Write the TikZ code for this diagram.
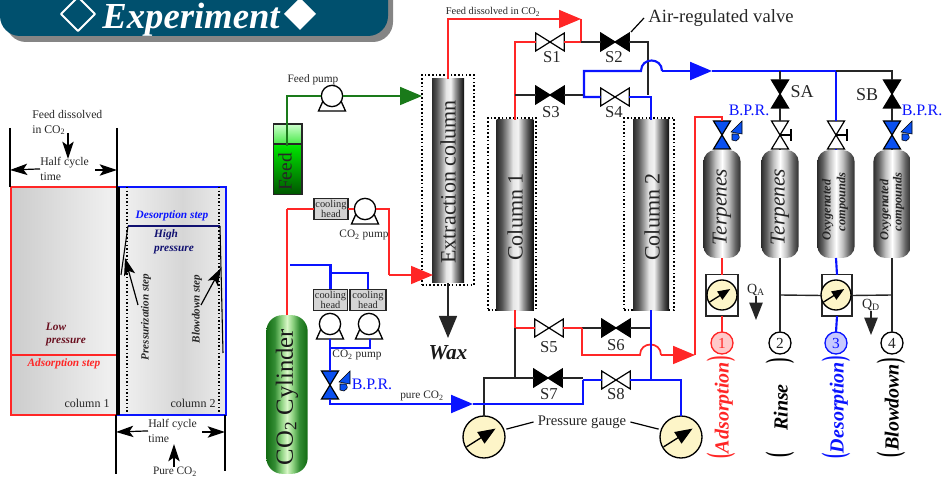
\documentclass[tikz,border=0pt]{standalone}
\usepackage{fontspec}
\setmainfont{Liberation Serif}
\usetikzlibrary{arrows.meta,calc}
\definecolor{banner}{HTML}{00506E}
\definecolor{shadowgray}{HTML}{858585}
\definecolor{pred}{HTML}{FF2626}
\definecolor{pblue}{HTML}{0A14FF}
\definecolor{pgreen}{HTML}{1A7A1A}
\definecolor{vblue}{HTML}{0A50F0}
\definecolor{cream}{HTML}{FDF5C8}
\definecolor{txt}{HTML}{262626}
\definecolor{lowred}{HTML}{6A1020}
\definecolor{navy}{HTML}{101070}
\pgfdeclarehorizontalshading{colsteel}{100bp}{rgb(0bp)=(.15,.15,.15); rgb(25bp)=(.17,.17,.17); rgb(32bp)=(.33,.33,.33); rgb(40bp)=(.62,.62,.62); rgb(47bp)=(.9,.9,.9); rgb(54bp)=(.95,.95,.95); rgb(61bp)=(.6,.6,.6); rgb(68bp)=(.3,.3,.3); rgb(75bp)=(.05,.05,.05); rgb(100bp)=(.05,.05,.05)}
\pgfdeclarehorizontalshading{tanksteel}{100bp}{rgb(0bp)=(.18,.18,.18); rgb(25bp)=(.18,.18,.18); rgb(32bp)=(.38,.38,.38); rgb(41bp)=(.75,.75,.75); rgb(50bp)=(1,1,1); rgb(59bp)=(.75,.75,.75); rgb(68bp)=(.38,.38,.38); rgb(75bp)=(.18,.18,.18); rgb(100bp)=(.18,.18,.18)}
\pgfdeclarehorizontalshading{cylgreen}{100bp}{rgb(0bp)=(.07,.42,.07); rgb(25bp)=(.07,.42,.07); rgb(35bp)=(.2,.55,.2); rgb(43bp)=(.55,.82,.5); rgb(50bp)=(.85,.97,.78); rgb(57bp)=(.55,.82,.5); rgb(65bp)=(.2,.55,.2); rgb(75bp)=(.07,.42,.07); rgb(100bp)=(.07,.42,.07)}
\pgfdeclareverticalshading{feedgreen}{100bp}{rgb(0bp)=(0,.33,0); rgb(25bp)=(0,.33,0); rgb(60.5bp)=(0,.9,0); rgb(61.5bp)=(.3,.92,.3); rgb(75bp)=(.8,1,.8); rgb(100bp)=(.8,1,.8)}
\pgfdeclarehorizontalshading{leftgray}{100bp}{rgb(0bp)=(.8,.8,.8); rgb(25bp)=(.8,.8,.8); rgb(75bp)=(.95,.95,.95); rgb(100bp)=(.95,.95,.95)}
\pgfdeclarehorizontalshading{rightgray}{100bp}{rgb(0bp)=(.95,.95,.95); rgb(25bp)=(.95,.95,.95); rgb(55bp)=(.84,.84,.84); rgb(75bp)=(.92,.92,.92); rgb(100bp)=(.92,.92,.92)}
\tikzset{
  vbox/.style={rectangle,inner sep=0pt,outer sep=0pt},
  hv/.style={vbox,minimum width=21.5pt,minimum height=13.5pt},
  vv/.style={vbox,minimum width=12.75pt,minimum height=21pt},
  vshape/.style={draw=black,line width=.9pt},
  lab/.style={inner sep=0pt,text=txt,font=\fontsize{8.5}{10}\selectfont},
  slab/.style={inner sep=0pt,text=txt,font=\fontsize{12.5}{13}\selectfont},
  lstep/.style={inner sep=0pt,font=\fontsize{8.5}{10}\selectfont\bfseries\itshape},
  coltext/.style={inner sep=0pt,rotate=90,text=black!85,font=\fontsize{16.5}{18}\selectfont},
  dotbox/.style={draw=black,line width=.9pt,dash pattern=on 1.2pt off 1.6pt,minimum width=0pt,inner sep=0pt,outer sep=0pt},
  steelcol/.style={shade,shading=colsteel,inner sep=0pt,outer sep=0pt},
  tank/.style={shade,shading=tanksteel,inner sep=0pt,outer sep=0pt,minimum width=28pt,minimum height=81pt,rounded corners=9pt},
  pipeR/.style={draw=pred,line width=1.3pt},
  pipeB/.style={draw=pblue,line width=1.6pt},
  pipeG/.style={draw=pgreen,line width=1.3pt},
  pipeK/.style={draw=black!85,line width=1.05pt},
  bigtip/.style={-{Triangle[length=16.5pt,width=13.5pt]}},
  dimtip/.style={draw=black,line width=.9pt,-{Stealth[length=13pt,width=8.5pt,inset=3pt]}},
  coolbox/.style={draw=black!85,fill=black!17,line width=1.1pt,inner sep=0pt,outer sep=0pt,minimum width=25.5pt,minimum height=16pt,align=center,text=txt,font=\fontsize{7.8}{6}\selectfont},
  gaugenode/.style={circle,draw=black,fill=cream,line width=1pt,inner sep=0pt,outer sep=0pt},
  pumpnode/.style={circle,draw=black,fill=white,line width=1pt,inner sep=0pt,outer sep=0pt,minimum size=16pt},
  numnode/.style={circle,line width=1pt,inner sep=0pt,outer sep=0pt,minimum size=16.5pt,font=\fontsize{11.5}{12}\selectfont},
}
\newcommand{\hvalve}[4]{\node[hv] (#1) at (#2,#3) {};
  \filldraw[vshape,fill=#4] (#1.north west) -- (#1.south west) -- (#1.north east) -- (#1.south east) -- cycle;}
\newcommand{\vvalve}[4]{\node[vv] (#1) at (#2,#3) {};
  \filldraw[vshape,fill=#4] (#1.north west) -- (#1.north east) -- (#1.south west) -- (#1.south east) -- cycle;}
\newcommand{\handvalve}[3]{\vvalve{#1}{#2}{#3}{white}
  \draw[vshape] (#1.center) -- ++(11,0) ++(0,-6) -- ++(0,12);}
\newcommand{\bprvalve}[3]{\vvalve{#1}{#2}{#3}{vblue}
  \begin{scope}[shift={(#2,#3)}]
    \filldraw[draw=black,line width=.4pt,fill=vblue] (9,-3) -- (20,-14) -- (20,-1) -- cycle;
    \filldraw[draw=black,line width=.4pt,fill=vblue] (10,-1) -- (16,-1) .. controls (18,3) .. (14,6) -- (10,5) -- cycle;
  \end{scope}}
\newcommand{\pumpat}[3]{\draw[line width=1pt,draw=black,fill=white] (#2-9,#3+5) -- (#2-13.5,#3+15) -- (#2+13.5,#3+15) -- (#2+9,#3+5) -- cycle;
  \node[pumpnode] (#1) at (#2,#3) {};}
\newcommand{\gaugeat}[4]{\node[gaugenode,minimum size=#4*1.5pt] (#1) at (#2,#3) {};
  \draw[line width=1pt,-{Triangle[length=#4*.62pt,width=#4*.48pt]}] (#2-#4*.83,#3+#4*.47) -- (#2+#4*.55,#3-#4*.4);}
\newcommand{\sidelabel}[5]{\node[inner sep=0pt,rotate=90,text=#4,font=\fontsize{15}{16}\selectfont\bfseries\itshape] (#1) at (#2,#3) {\makebox[74.25pt]{\scalebox{.8}[1.6]{\upshape(}\hfill #5\hfill\scalebox{.8}[1.6]{\upshape)}}};}
\begin{document}
\begin{tikzpicture}[x=.75pt,y=-.75pt]
\useasboundingbox (0,0) rectangle (943,477);
\clip (0,0) rectangle (943,477);
% ---------- banner
\fill[shadowgray,rounded corners=15pt] (6,0) -- (6,42) -- (393,42) -- (393,-20) -- (6,-20) -- cycle;
\fill[banner,rounded corners=15pt] (0,-20) -- (0,36) -- (388,36) -- (388,-20) -- cycle;
\draw[white,line width=1.5pt,line join=round] (78,-3) -- (95,14) -- (78,31) -- (61,14) -- cycle;
\node[anchor=base,inner sep=0pt,text=white,font=\fontsize{27.5}{29}\selectfont\bfseries\itshape] (title) at (191,28.5) {Experiment};
\fill[white,line join=round] (300,-2) -- (316,14) -- (300,30) -- (284,14) -- cycle;
% ---------- left cycle figure
\shade[shading=leftgray] (11,187) rectangle (117,415);
\shade[shading=rightgray] (117,187) rectangle (226,415);
\draw[pred,line width=1.5pt] (117,187) -- (11,187) -- (11,415) -- (117,415);
\draw[pblue,line width=1.5pt] (117,187) -- (226,187) -- (226,415) -- (117,415);
\draw[pred,line width=.9pt] (11,355) -- (116,355);
\draw[black,dash pattern=on 1.1pt off 1.6pt,line width=.9pt] (127,187) -- (127,413) (219,187) -- (219,413);
\draw[black,line width=3pt] (117.5,187) -- (117.5,415);
\draw[navy,line width=1pt] (128,226) -- (220,226);
\draw[black,line width=.8pt] (128,226) -- (121,275);
\draw[black,line width=.8pt] (220,226) -- (223,353);
\coordinate (dimLa) at (10,128); \coordinate (dimLb) at (10,187);
\coordinate (dimMa) at (117,128); \coordinate (dimMb) at (117,187);
\coordinate (dimNa) at (116,415); \coordinate (dimNb) at (116,474);
\coordinate (dimRa) at (225,415); \coordinate (dimRb) at (225,471);
\draw[black,line width=.8pt] (dimLa) -- (dimLb) (dimMa) -- (dimMb) (dimNa) -- (dimNb) (dimRa) -- (dimRb);
\node[lab,align=left,anchor=north west,font=\fontsize{8.8}{11.2}\selectfont] (feedco) at (32,110) {Feed dissolved\\in CO\textsubscript{2}};
\coordinate (fa) at (68,133); \coordinate (fb) at (68,159);
\draw[dimtip] (fa) -- (fb);
\node[lab,align=left,anchor=north west,font=\fontsize{8.8}{11.2}\selectfont] (hc1) at (40,157) {Half cycle\\time};
\coordinate (hl) at (10,170); \coordinate (hr) at (117,170);
\draw[dimtip] (hc1.west) -- (hl);
\draw[dimtip] (95,170) -- (hr);
\node[lab,align=left,anchor=north west,font=\fontsize{8.8}{11.2}\selectfont] (hc2) at (148,419) {Half cycle\\time};
\coordinate (hl2) at (116,432); \coordinate (hr2) at (225,432);
\draw[dimtip] (hc2.west) -- (hl2);
\draw[dimtip] (202,432) -- (hr2);
\node[lab] (pure) at (175,472) {Pure CO\textsubscript{2}};
\coordinate (pu) at (174,444);
\draw[dimtip] ($(pure.north)+(-1,0)$) -- (pu);
\node[lstep,text=pblue] (dstep) at (172,216) {Desorption step};
\node[lstep,text=navy] (hi) at (166,235) {High};
\node[lstep,text=navy] (hp) at (174,250) {pressure};
\node[lstep,text=lowred] (lo) at (56,327) {Low};
\node[lstep,text=lowred] (lp) at (66,342) {pressure};
\node[lstep,text=pred] (astep) at (64,364) {Adsorption step};
\node[lstep,text=black!85,rotate=90,font=\fontsize{8.3}{10}\selectfont\bfseries\itshape] (pstep) at (146,317) {Pressurization step};
\node[lstep,text=black!85,rotate=90,font=\fontsize{8.3}{10}\selectfont\bfseries\itshape] (bstep) at (197,309) {Blowdown step};
\coordinate (pa) at (125,258); \coordinate (pb) at (138,305);
\coordinate (ba) at (221,268); \coordinate (bb) at (201,305);
\draw[dimtip] (pb) -- (pa);
\draw[dimtip] (bb) -- (ba);
\node[lab,font=\fontsize{9}{10}\selectfont] (cl1) at (87,403) {column 1};
\node[lab,font=\fontsize{9}{10}\selectfont] (cl2) at (193,403) {column 2};
% ---------- feed
\node[shade,shading=feedgreen,draw=black!85,line width=1pt,inner sep=0pt,outer sep=0pt,minimum width=21.5pt,minimum height=53pt] (feed) at (287.5,159.5) {};
\coordinate (feedL) at (feed.west |- 0,144); \coordinate (feedR) at (feed.east |- 0,144);
\draw[black!85,line width=1pt] (feedL) -- (feedR);
\node[inner sep=0pt,rotate=90,text=black!85,font=\fontsize{14.5}{15}\selectfont] (feedT) at (285,172) {Feed};
\pumpat{fp}{332}{96}
\node[lab] (fpl) at (313,80) {Feed pump};
% ---------- columns
\node[dotbox,minimum width=39pt,minimum height=157.5pt] (ecbox) at (448,180) {};
\node[steelcol,minimum width=24pt,minimum height=153pt] (ec) at (448,181) {};
\node[coltext] (ect) at (448,182) {Extraction column};
\node[dotbox,minimum width=36pt,minimum height=144pt] (c1box) at (512,214) {};
\node[steelcol,minimum width=27.5pt,minimum height=143pt] (col1) at (515,215) {};
\node[coltext] (c1t) at (515,217) {Column 1};
\node[dotbox,minimum width=37.5pt,minimum height=144pt] (c2box) at (649,214) {};
\node[steelcol,minimum width=27pt,minimum height=143pt] (col2) at (651,215) {};
\node[coltext] (c2t) at (652,217) {Column 2};
\node[inner sep=0pt,font=\fontsize{16}{18}\selectfont\bfseries\itshape,text=black!90] (wax) at (448,353) {Wax};
% ---------- valves
\hvalve{S1}{550}{42}{white}
\hvalve{S2}{615}{42}{black}
\hvalve{S3}{550}{95}{black}
\hvalve{S4}{615}{97}{white}
\hvalve{S5}{549}{328}{white}
\hvalve{S6}{616}{328}{black}
\hvalve{S7}{548}{378}{black}
\hvalve{S8}{616}{380}{white}
\node[slab] (S1l) at (552,57) {S1};
\node[slab] (S2l) at (614,57) {S2};
\node[slab] (S3l) at (551,112) {S3};
\node[slab] (S4l) at (614,112) {S4};
\node[slab] (S5l) at (549,347) {S5};
\node[slab] (S6l) at (616,345) {S6};
\node[slab] (S7l) at (549,394) {S7};
\node[slab] (S8l) at (616,394) {S8};
\node[inner sep=0pt,text=txt,font=\fontsize{14}{15}\selectfont] (arv) at (721,18) {Air-regulated valve};
\coordinate (arvc) at (631,32);
\coordinate (arvd) at (644,18);
\draw[black,line width=.9pt] (arvc) -- (arvd);
\node[lab,font=\fontsize{7.8}{9}\selectfont] (fdl) at (493,12) {Feed dissolved in CO\textsubscript{2}};
% ---------- CO2 supply
\node[shade,shading=cylgreen,inner sep=0pt,outer sep=0pt,minimum width=31pt,minimum height=119pt,rounded corners=12pt] (cyl) at (287,394.5) {};
\node[inner sep=0pt,rotate=90,text=black!90,font=\fontsize{18.5}{20}\selectfont] (cylt) at (287,397) {CO\textsubscript{2} Cylinder};
\node[coolbox] (ch1) at (331,209) {cooling\\[-1pt]head};
\pumpat{p1}{365}{209}
\node[lab] (p1l) at (364,235) {CO\textsubscript{2} pump};
\node[coolbox] (ch2) at (330.5,300) {cooling\\[-1pt]head};
\node[coolbox,minimum width=27pt] (ch3) at (368,300) {cooling\\[-1pt]head};
\pumpat{p2}{330}{324}
\pumpat{p3}{369}{324}
\node[lab] (p2l) at (357,355) {CO\textsubscript{2} pump};
\bprvalve{BP}{330}{385}
\node[inner sep=0pt,text=pblue,font=\fontsize{12}{13}\selectfont] (bpl) at (372,384) {B.P.R.};
\node[lab] (purel) at (422,396) {pure CO\textsubscript{2}};
% ---------- gauges
\gaugeat{g1}{484}{437}{21}
\gaugeat{g2}{681}{437}{21}
\node[lab,font=\fontsize{11}{12}\selectfont,inner sep=3pt] (pg) at (582,422) {Pressure gauge};
\draw[black,line width=.9pt,shorten >=2pt] (pg.west) -- (g1.20);
\draw[black,line width=.9pt,shorten >=2pt] (pg.east) -- (g2.160);
% ---------- product tanks
\vvalve{SA}{780}{94}{black}
\vvalve{SB}{892}{94}{black}
\bprvalve{B1}{722}{135}
\handvalve{V2}{780}{135}
\handvalve{V3}{836}{135}
\bprvalve{B2}{892}{135}
\node[slab,font=\fontsize{13.5}{14}\selectfont] (SAl) at (802,92) {SA};
\node[slab,font=\fontsize{13.5}{14}\selectfont] (SBl) at (867,95) {SB};
\node[inner sep=0pt,text=pblue,font=\fontsize{12}{13}\selectfont] (b1l) at (749,110) {B.P.R.};
\node[inner sep=0pt,text=pblue,font=\fontsize{12}{13}\selectfont] (b2l) at (922,110) {B.P.R.};
\node[tank] (t1) at (722,204) {};
\node[tank] (t2) at (780,204) {};
\node[tank] (t3) at (836,204) {};
\node[tank] (t4) at (892,204) {};
\node[inner sep=0pt,rotate=90,text=black!85,font=\fontsize{16}{17}\selectfont\itshape] (t1t) at (722,207) {Terpenes};
\node[inner sep=0pt,rotate=90,text=black!85,font=\fontsize{16}{17}\selectfont\itshape] (t2t) at (780,207) {Terpenes};
\node[inner sep=0pt,rotate=90,text=black!85,align=center,font=\fontsize{9.3}{11}\selectfont\bfseries\itshape] (t3t) at (835,210) {Oxygenated\\\hspace*{6pt}compounds\hspace*{-6pt}};
\node[inner sep=0pt,rotate=90,text=black!85,align=center,font=\fontsize{9.3}{10}\selectfont\bfseries\itshape] (t4t) at (892,210) {Oxygenated\\\hspace*{6pt}compounds\hspace*{-6pt}};
\node[draw=black!85,line width=1pt,fill=white,inner sep=0pt,outer sep=0pt,minimum width=24pt,minimum height=31pt] (gb1) at (722,295.5) {};
\node[draw=black!85,line width=1pt,fill=white,inner sep=0pt,outer sep=0pt,minimum width=22.5pt,minimum height=31pt] (gb2) at (837,295.5) {};
\gaugeat{g3}{722}{295}{15}
\gaugeat{g4}{836}{295}{15}
\node[numnode,draw=pred,fill=pred!25,text=pred] (n1) at (722,343) {1};
\node[numnode,draw=black,fill=white,text=txt] (n2) at (780,343) {2};
\node[numnode,draw=pblue,fill=pblue!23,text=pblue] (n3) at (836,343) {3};
\node[numnode,draw=black,fill=white,text=txt] (n4) at (892,343) {4};
\sidelabel{sa}{721}{407.5}{pred}{Adsorption}
\sidelabel{sr}{780}{407.5}{black}{Rinse}
\sidelabel{sd}{836}{407.5}{pblue}{Desorption}
\sidelabel{sb}{891}{407.5}{black}{Blowdown}
\node[inner sep=0pt,text=txt,font=\fontsize{10.5}{11}\selectfont] (qa) at (756,290) {Q\textsubscript{A}};
\node[inner sep=0pt,text=txt,font=\fontsize{10.5}{11}\selectfont] (qd) at (871,305) {Q\textsubscript{D}};
\coordinate (qat) at (756,320);
\coordinate (qdt) at (871,335);
\draw[pipeK,-{Triangle[length=13pt,width=10pt]}] (qa.south) -- (qat);
\draw[pipeK,-{Triangle[length=13pt,width=10pt]}] (qd.south) -- (qdt);
% ---------- named junctions
\coordinate (feedin) at (287,146);
\coordinate (ecA) at (422,96);
\coordinate (fT) at (581,19);
\coordinate (j1) at (581,42);
\coordinate (j2) at (648,95);
\coordinate (j3) at (515,95);
\coordinate (j4) at (584,97);
\coordinate (jA) at (641,71);
\coordinate (jB) at (662,71);
\coordinate (topT) at (712,71);
\coordinate (j5) at (836,71);
\coordinate (j6) at (780,71);
\coordinate (j9) at (515,328);
\coordinate (j10) at (582,328);
\coordinate (j11) at (651,328);
\coordinate (j12) at (651,380);
\coordinate (j13) at (515,378);
\coordinate (j15) at (583,380);
\coordinate (jC) at (640,355);
\coordinate (jD) at (661,355);
\coordinate (rT) at (695,355);
\coordinate (rC) at (695,117);
\coordinate (pureT) at (473,404);
\coordinate (r1) at (287,209);
\coordinate (r2) at (389,275);
\coordinate (ecB) at (433,275);
\coordinate (bfree) at (290,265);
\coordinate (j17) at (330.5,273);
\coordinate (j18) at (330,348);
\coordinate (j7) at (780,295);
\coordinate (j8) at (892,295);
\coordinate (p2b) at (330,339);
\coordinate (p3b) at (370,339);
\coordinate (waxT) at (448,338);
% ---------- pipes
\draw[pipeG] (feedin) |- (fp.west);
\draw[pipeG,bigtip] (fp.east) -- (ecA);
\draw[pipeK,bigtip,line width=1.1pt] (ec.south) -- (waxT);
\draw[pipeR,bigtip] (ec.north) |- (fT);
\draw[pipeR] (fT) -- (j1) -- (S1.east);
\draw[pipeR] (S1.west) -| (col1.north);
\draw[pipeK] (j1) -- (S2.west);
\draw[pipeK] (S2.east) -| (j2);
\draw[pipeK] (j3) -- (S3.west);
\draw[pipeK] (S3.east) -- (S3.east -| j4);
\draw[pipeB] (S4.west) -- (j4) |- (jA) .. controls +(0,-14) and +(0,-14) .. (jB);
\draw[pipeB,bigtip] (jB) -- (topT);
\draw[pipeB] (topT) -- (j5);
\draw[pipeB] (S4.east) -| (col2.north);
\draw[pipeB] (j5) -- (V3.north);
\draw[pipeK] (j5) -| (SB.north);
\draw[pipeK] (SB.south) -- (B2.north);
\draw[pipeK] (j6) -- (SA.north);
\draw[pipeK] (SA.south) -- (V2.north);
\draw[pipeB] (V3.south) -- (t3.north);
\draw[pipeK] (V2.south) -- (t2.north);
\draw[pipeK] (B2.south) -- (t4.north);
\draw[pipeR] (col1.south) -- (j9) -- (S5.west);
\draw[pipeR] (S5.east) -- (j10);
\draw[pipeK] (j10) -- (S6.west);
\draw[pipeK] (S6.east) -- (j11);
\draw[pipeR] (j10) |- (jC) .. controls +(0,-14) and +(0,-14) .. (jD);
\draw[pipeR,bigtip] (jD) -- (rT);
\draw[pipeR] (rT) -- (rC) -| (B1.north);
\draw[pipeB] (col2.south) -- (j12);
\draw[pipeK] (j9) -- (j13);
\draw[pipeK] (S7.west) -| (g1.north);
\draw[pipeK] (S7.east) -- (S7.east -| j15);
\draw[pipeB,bigtip] (BP.south) |- (pureT);
\draw[pipeB] (pureT) -| (j15);
\draw[pipeB] (j15) -- (S8.west);
\draw[pipeB] (S8.east) -| (g2.north);
\draw[pipeR] (cyl.north) -- (r1);
\draw[pipeR] (r1) -- (ch1.west);
\draw[pipeR] (ch1.east) -- (p1.west);
\draw[pipeR] (p1.east) -| (r2);
\draw[pipeR,bigtip] (r2) -- (ecB);
\draw[pipeB] (bfree) -| (ch2.north);
\draw[pipeB] (j17) -| (ch3.north);
\draw[pipeB] (p2b) -- (BP.north);
\draw[pipeB] (p3b) |- (j18);
\draw[pipeR] (t1.south) -- (gb1.north);
\draw[pipeR] (gb1.south) -- (n1.north);
\draw[pipeK] (t2.south) -- (n2.north);
\draw[pipeB] (t3.south) -- (gb2.north);
\draw[pipeB] (gb2.south) -- (n3.north);
\draw[pipeK] (t4.south) -- (n4.north);
\draw[pipeK] (j7) -- (gb2.west);
\draw[pipeK] (gb2.east) -- (j8);
\end{tikzpicture}
\end{document}
